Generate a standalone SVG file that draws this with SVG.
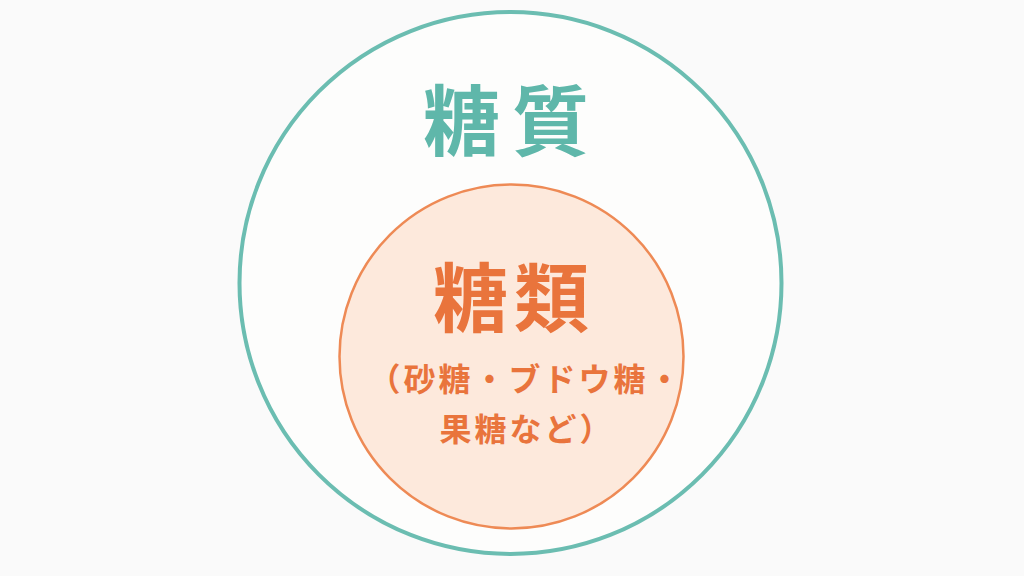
<svg xmlns="http://www.w3.org/2000/svg" width="1024" height="576" viewBox="0 0 1024 576">
<style>
text{font-family:"Noto Sans CJK JP","Noto Sans",sans-serif;font-weight:bold;text-anchor:middle}
.t{fill:#5fb7aa}
.o{fill:#e9743c}
</style>
<rect width="1024" height="576" fill="#fafafa"/>
<g id="outer">
<circle cx="510.5" cy="283" r="271" fill="#fdfdfc" stroke="#6bbdb1" stroke-width="4"/>
<text class="t" x="512" y="150" font-size="77" letter-spacing="12">糖質</text>
</g>
<g id="inner">
<circle cx="511.5" cy="356.5" r="172" fill="#fde9dc" stroke="#ee8a55" stroke-width="2.5"/>
<text class="o" x="514" y="326" font-size="75" letter-spacing="6">糖類</text>
<text class="o" x="526" y="391" font-size="32" font-weight="500" letter-spacing="3">（砂糖・ブドウ糖・</text>
<text class="o" x="527" y="441" font-size="32" font-weight="500" letter-spacing="3">果糖など）</text>
</g>
</svg>
